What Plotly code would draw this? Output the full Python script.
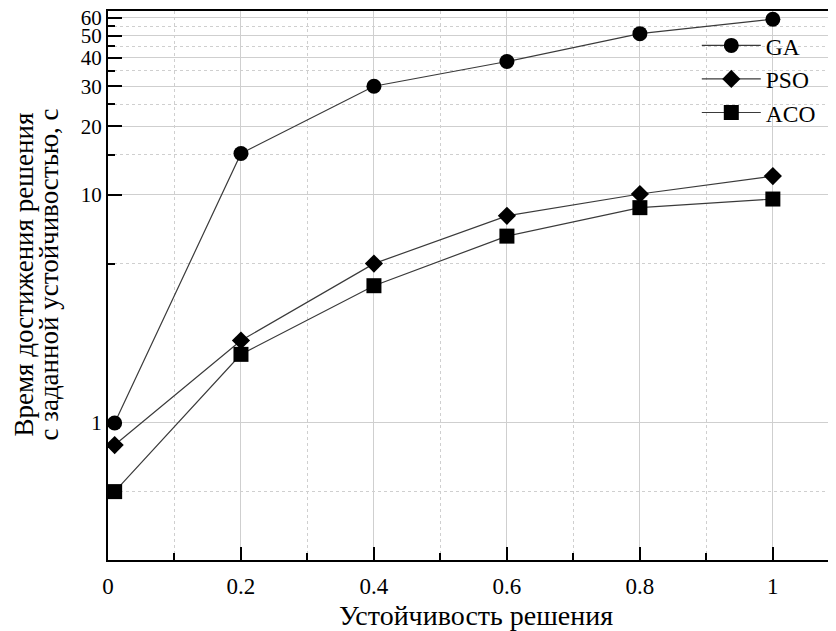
import plotly.graph_objects as go

x = [0.01, 0.2, 0.4, 0.6, 0.8, 1.0]
ga = [1.0, 15.2, 30.0, 38.5, 51.0, 59.0]
pso = [0.8, 2.3, 5.0, 8.1, 10.1, 12.1]
aco = [0.5, 2.0, 4.0, 6.6, 8.8, 9.6]

y_major = [1, 10, 20, 30, 40, 50, 60]
y_minor = [0.5, 5, 15, 25, 35, 45, 55]
x_major = [0, 0.2, 0.4, 0.6, 0.8, 1]
x_major_text = ["0", "0.2", "0.4", "0.6", "0.8", "1"]
x_minor = [0.1, 0.3, 0.5, 0.7, 0.9]

y_title_lines = ["Время достижения решения", "с заданной устойчивостью, с"]
x_title = "Устойчивость решения"

FONT = "Liberation Serif"
line_col = "#3a3a3a"
grid_col = "#cfcfcf"

fig = go.Figure()
fig.add_trace(go.Scatter(x=x, y=ga, name="GA", mode="lines+markers",
                         line=dict(color=line_col, width=1.2),
                         marker=dict(symbol="circle", size=15, color="black")))
fig.add_trace(go.Scatter(x=x, y=pso, name="PSO", mode="lines+markers",
                         line=dict(color=line_col, width=1.2),
                         marker=dict(symbol="diamond", size=14, color="black")))
fig.add_trace(go.Scatter(x=x, y=aco, name="ACO", mode="lines+markers",
                         line=dict(color=line_col, width=1.2),
                         marker=dict(symbol="square", size=15, color="black")))

# y-axis title as two tightly spaced rotated lines
for txt, shift in zip(y_title_lines, [-85, -60]):
    fig.add_annotation(x=0, y=0.5, xref="paper", yref="paper", text=txt,
                       showarrow=False, textangle=-90, xanchor="center",
                       yanchor="middle", xshift=shift, yshift=11,
                       font=dict(family=FONT, size=27, color="black"))

fig.update_layout(
    width=836, height=631,
    margin=dict(l=100, r=0, t=3, b=79),
    paper_bgcolor="white", plot_bgcolor="white",
    font=dict(family=FONT, size=23, color="black"),
    showlegend=True,
    legend=dict(x=0.80, y=0.977, xanchor="left", yanchor="top",
                bgcolor="rgba(0,0,0,0)", font=dict(family=FONT, size=23.5),
                itemwidth=59),
    xaxis=dict(
        range=[0, 1.107],
        automargin=False,
        tickmode="array", tickvals=x_major, ticktext=x_major_text,
        ticks="inside", ticklen=13, tickwidth=2, tickcolor="black",
        showline=True, linecolor="black", linewidth=2, mirror=True,
        showgrid=True, gridcolor=grid_col, gridwidth=1,
        zeroline=False,
        tickfont=dict(family=FONT, size=23),
        ticklabelstandoff=4,
        title=dict(text=x_title, font=dict(family=FONT, size=28), standoff=8),
        minor=dict(tickmode="array", tickvals=x_minor, ticks="inside", ticklen=7,
                   tickwidth=1.5, tickcolor="black", showgrid=True,
                   gridcolor=grid_col, griddash="dot", gridwidth=1),
    ),
    yaxis=dict(
        type="log",
        range=[-0.601, 1.807],
        automargin=False,
        tickmode="array", tickvals=y_major, ticktext=[str(v) for v in y_major],
        ticks="inside", ticklen=14, tickwidth=2, tickcolor="black",
        showline=True, linecolor="black", linewidth=2,
        showgrid=True, gridcolor=grid_col, gridwidth=1,
        zeroline=False,
        ticklabeloverflow="allow",
        tickfont=dict(family=FONT, size=21),
        minor=dict(tickmode="array", tickvals=y_minor, ticks="inside", ticklen=7,
                   tickwidth=1.5, tickcolor="black", showgrid=True,
                   gridcolor=grid_col, griddash="dot", gridwidth=1),
    ),
)

fig.write_html("out.html")
